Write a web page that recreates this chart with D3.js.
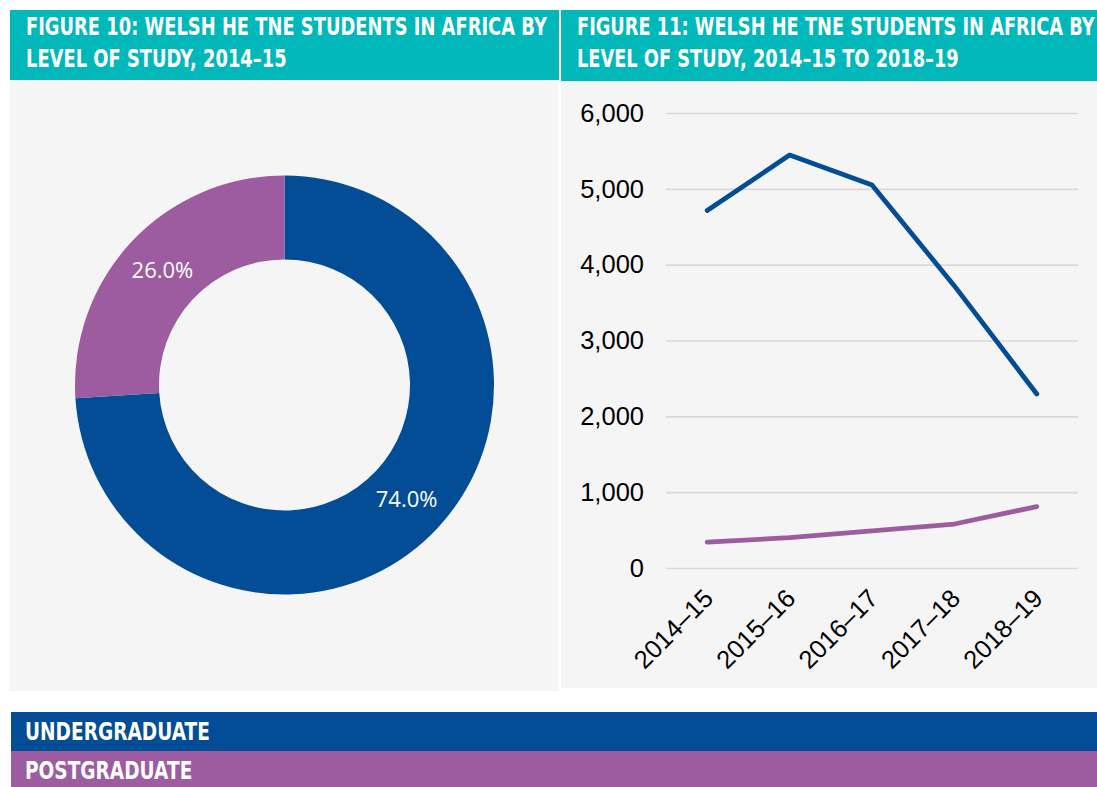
<!DOCTYPE html>
<html>
<head>
<meta charset="utf-8">
<script src="https://cdn.jsdelivr.net/npm/d3@7"></script>
<style>
  body { margin: 0; background: #fff; }
  .title { font-family: "DejaVu Sans", sans-serif; font-weight: bold; fill: #fff; font-size: 24px; }
  .axis text { font-family: "Liberation Sans", Arial, sans-serif; font-size: 25.5px; fill: #000; }
  .pct { font-family: "Open Sans", "Lato", sans-serif; font-size: 22px; fill: #fff; }
</style>
</head>
<body>
<div id="main"></div>
<script>
const years = ['2014–15', '2015–16', '2016–17', '2017–18', '2018–19'];
const undergrad = [4715, 5445, 5050, 3720, 2295];
const postgrad = [340, 400, 490, 580, 810];
const shareLabels = ['Undergraduate', 'Postgraduate'];
const share2014 = [74.0, 26.0];
const yTicks = [0, 1000, 2000, 3000, 4000, 5000, 6000];
const title10 = ['FIGURE 10: WELSH HE TNE STUDENTS IN AFRICA BY', 'LEVEL OF STUDY, 2014–15'];
const title11 = ['FIGURE 11: WELSH HE TNE STUDENTS IN AFRICA BY', 'LEVEL OF STUDY, 2014–15 TO 2018–19'];
const legendNames = ['UNDERGRADUATE', 'POSTGRADUATE'];

const w = 1097;
const h = 787;
const teal = '#00B8B9';
const blue = '#034C96';
const purple = '#9C5C9F';
const panelBg = '#F5F5F5';

const svg = d3.select('#main').append('svg').attr('width', w).attr('height', h);

// panels
svg.append('rect').attr('x', 10).attr('y', 80).attr('width', 548).attr('height', 611).attr('fill', panelBg);
svg.append('rect').attr('x', 561).attr('y', 80).attr('width', 536).attr('height', 608).attr('fill', panelBg);

// title bars
svg.append('rect').attr('x', 10).attr('y', 10).attr('width', 549).attr('height', 70).attr('fill', teal);
svg.append('rect').attr('x', 561).attr('y', 10).attr('width', 536).attr('height', 71).attr('fill', teal);

// condensed bold look: squeeze the text horizontally so line 1 fits the wanted width
function title(lines, x, y0, lead, wantW) {
    const g = svg.append('g');
    const t = g.append('text').attr('class', 'title');
    lines.forEach((l, i) => {
        t.append('tspan').attr('x', 0).attr('y', y0 + i * lead).text(l);
    });
    const nat = t.select('tspan').node().getComputedTextLength();
    g.attr('transform', `translate(${x},0) scale(${wantW / nat},1)`);
    return g;
}
title(title10, 26, 35, 32, 521);
title(title11, 577, 35, 32, 518);

// donut
const pie = d3.pie().sort(null).value(d => d);
const arc = d3.arc().innerRadius(125.5).outerRadius(209.5);
const colors = d3.scaleOrdinal().domain(shareLabels).range([blue, purple]);
const donut = svg.append('g').attr('transform', 'translate(284.5,385)');
const arcs = pie(share2014);
donut.selectAll('path').data(arcs).enter().append('path')
    .attr('d', arc)
    .attr('fill', (d, i) => colors(shareLabels[i]));
donut.selectAll('text').data(arcs).enter().append('text')
    .attr('class', 'pct')
    .attr('transform', d => `translate(${arc.centroid(d)})`)
    .attr('text-anchor', 'middle')
    .attr('dy', '0.35em')
    .text(d => d.value.toFixed(1) + '%');

// line chart
const xScale = d3.scalePoint().domain(years).range([666, 1078]).padding(0.5);
const yScale = d3.scaleLinear().domain([0, 6000]).range([568, 113]);

const yAxis = d3.axisLeft(yScale).tickValues(yTicks).tickFormat(d3.format(',')).tickSizeInner(-412).tickSizeOuter(0).tickPadding(22);
const gy = svg.append('g').attr('class', 'axis').attr('transform', 'translate(666,0)').call(yAxis);
gy.select('.domain').remove();
gy.selectAll('line').attr('stroke', '#D9D9D9').attr('stroke-width', 1.6);

const xAxis = d3.axisBottom(xScale).tickSize(0);
const gx = svg.append('g').attr('class', 'axis').attr('transform', 'translate(0,568)').call(xAxis);
gx.select('.domain').remove();
gx.selectAll('text')
    .attr('x', 0).attr('y', 0).attr('dy', 0)
    .attr('text-anchor', 'end')
    .attr('transform', 'translate(7,32) rotate(-45)');

const line = d3.line().x((d, i) => xScale(years[i])).y(d => yScale(d));
[[undergrad, blue], [postgrad, purple]].forEach(([s, c]) => {
    svg.append('path').datum(s)
        .attr('d', line)
        .attr('fill', 'none')
        .attr('stroke', c)
        .attr('stroke-width', 4.8)
        .attr('stroke-linecap', 'round')
        .attr('stroke-linejoin', 'round');
});

// legend bars
const legendColors = [blue, purple];
svg.selectAll('.lgbar').data(legendNames).enter().append('rect')
    .attr('class', 'lgbar')
    .attr('x', 11).attr('y', (d, i) => 712 + i * 39)
    .attr('width', w - 11).attr('height', (d, i) => i === 0 ? 39 : 36)
    .attr('fill', (d, i) => legendColors[i]);
const lg = svg.append('g');
const lgText = lg.selectAll('text').data(legendNames).enter().append('text')
    .attr('class', 'title')
    .attr('x', 0).attr('y', (d, i) => 740 + i * 39)
    .style('font-size', '25px')
    .text(d => d);
const lgNat = lgText.node().getComputedTextLength();
lg.attr('transform', `translate(25,0) scale(${185 / lgNat},1)`);
</script>
</body>
</html>
